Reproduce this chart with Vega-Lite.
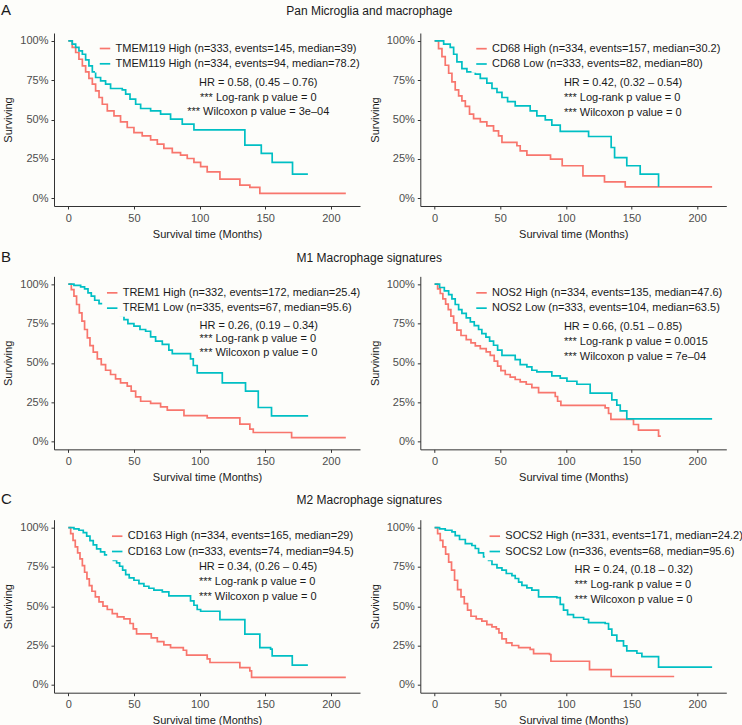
{
  "$schema": "https://vega.github.io/schema/vega-lite/v6.json",
  "background": "#fdfdfa",
  "padding": {"left": 1, "top": 3, "right": 0, "bottom": 0},
  "config": {
    "font": "Liberation Sans",
    "view": {"stroke": null},
    "axis": {"grid": false, "domainColor": "#333333", "tickColor": "#333333", "domainWidth": 1, "tickWidth": 1, "tickSize": 3, "labelFontSize": 11, "labelColor": "#4d4d4d", "titleFontSize": 11, "titleFontWeight": "normal", "titleColor": "#1a1a1a", "labelPadding": 3},
    "axisX": {"titlePadding": 5},
    "axisY": {"titlePadding": 6},
    "legend": {"orient": "none", "symbolType": "stroke", "symbolSize": 110, "symbolStrokeWidth": 1.7, "labelFontSize": 11, "labelColor": "#1a1a1a", "labelOffset": 4, "padding": 3.5, "fillColor": "#fdfdfa", "rowPadding": 3.3, "labelLimit": 400},
    "title": {"fontWeight": "normal", "color": "#1a1a1a", "baseline": "alphabetic"}
  },
  "datasets": {
    "km": [
      {"p":"A1","g":"High","t":0,"s":1},{"p":"A1","g":"High","t":3.0,"s":0.958},{"p":"A1","g":"High","t":5.6,"s":0.926},{"p":"A1","g":"High","t":8.1,"s":0.883},{"p":"A1","g":"High","t":10.7,"s":0.841},{"p":"A1","g":"High","t":13.2,"s":0.803},{"p":"A1","g":"High","t":15.7,"s":0.761},{"p":"A1","g":"High","t":18.3,"s":0.725},{"p":"A1","g":"High","t":20.8,"s":0.682},{"p":"A1","g":"High","t":23.4,"s":0.640},{"p":"A1","g":"High","t":25.9,"s":0.597},{"p":"A1","g":"High","t":29.7,"s":0.555},{"p":"A1","g":"High","t":34.8,"s":0.523},{"p":"A1","g":"High","t":39.8,"s":0.485},{"p":"A1","g":"High","t":44.9,"s":0.449},{"p":"A1","g":"High","t":50.0,"s":0.417},{"p":"A1","g":"High","t":56.3,"s":0.396},{"p":"A1","g":"High","t":62.7,"s":0.371},{"p":"A1","g":"High","t":67.8,"s":0.343},{"p":"A1","g":"High","t":72.8,"s":0.316},{"p":"A1","g":"High","t":79.2,"s":0.290},{"p":"A1","g":"High","t":85.5,"s":0.273},{"p":"A1","g":"High","t":90.6,"s":0.252},{"p":"A1","g":"High","t":95.7,"s":0.227},{"p":"A1","g":"High","t":100.8,"s":0.201},{"p":"A1","g":"High","t":105.8,"s":0.167},{"p":"A1","g":"High","t":115.5,"s":0.121},{"p":"A1","g":"High","t":130.7,"s":0.083},{"p":"A1","g":"High","t":138.3,"s":0.068},{"p":"A1","g":"High","t":145.9,"s":0.030},{"p":"A1","g":"High","t":211.4,"s":0.030},
      {"p":"A1","g":"Low","t":0,"s":1},{"p":"A1","g":"Low","t":3.0,"s":0.979},{"p":"A1","g":"Low","t":5.6,"s":0.958},{"p":"A1","g":"Low","t":8.1,"s":0.936},{"p":"A1","g":"Low","t":10.7,"s":0.915},{"p":"A1","g":"Low","t":13.2,"s":0.879},{"p":"A1","g":"Low","t":15.7,"s":0.841},{"p":"A1","g":"Low","t":18.3,"s":0.803},{"p":"A1","g":"Low","t":20.8,"s":0.767},{"p":"A1","g":"Low","t":24.6,"s":0.746},{"p":"A1","g":"Low","t":28.4,"s":0.725},{"p":"A1","g":"Low","t":32.2,"s":0.697},{"p":"A1","g":"Low","t":41.1,"s":0.689},{"p":"A1","g":"Low","t":43.7,"s":0.661},{"p":"A1","g":"Low","t":47.0,"s":0.629},{"p":"A1","g":"Low","t":51.3,"s":0.597},{"p":"A1","g":"Low","t":55.1,"s":0.570},{"p":"A1","g":"Low","t":62.7,"s":0.555},{"p":"A1","g":"Low","t":70.3,"s":0.534},{"p":"A1","g":"Low","t":77.9,"s":0.502},{"p":"A1","g":"Low","t":86.8,"s":0.470},{"p":"A1","g":"Low","t":95.7,"s":0.434},{"p":"A1","g":"Low","t":134.5,"s":0.337},{"p":"A1","g":"Low","t":147.0,"s":0.284},{"p":"A1","g":"Low","t":155.3,"s":0.227},{"p":"A1","g":"Low","t":170.8,"s":0.153},{"p":"A1","g":"Low","t":182.5,"s":0.153},
      {"p":"A2","g":"High","t":0,"s":1},{"p":"A2","g":"High","t":3.0,"s":0.951},{"p":"A2","g":"High","t":5.6,"s":0.900},{"p":"A2","g":"High","t":8.1,"s":0.845},{"p":"A2","g":"High","t":10.7,"s":0.794},{"p":"A2","g":"High","t":13.2,"s":0.739},{"p":"A2","g":"High","t":15.7,"s":0.689},{"p":"A2","g":"High","t":18.3,"s":0.650},{"p":"A2","g":"High","t":20.8,"s":0.619},{"p":"A2","g":"High","t":23.4,"s":0.583},{"p":"A2","g":"High","t":26.6,"s":0.534},{"p":"A2","g":"High","t":29.7,"s":0.506},{"p":"A2","g":"High","t":34.8,"s":0.485},{"p":"A2","g":"High","t":39.8,"s":0.460},{"p":"A2","g":"High","t":44.9,"s":0.428},{"p":"A2","g":"High","t":48.7,"s":0.396},{"p":"A2","g":"High","t":51.3,"s":0.354},{"p":"A2","g":"High","t":62.7,"s":0.333},{"p":"A2","g":"High","t":65.2,"s":0.301},{"p":"A2","g":"High","t":70.3,"s":0.273},{"p":"A2","g":"High","t":88.3,"s":0.248},{"p":"A2","g":"High","t":97.2,"s":0.206},{"p":"A2","g":"High","t":113.0,"s":0.142},{"p":"A2","g":"High","t":129.4,"s":0.104},{"p":"A2","g":"High","t":145.2,"s":0.072},{"p":"A2","g":"High","t":211.4,"s":0.072},
      {"p":"A2","g":"Low","t":0,"s":1},{"p":"A2","g":"Low","t":6.9,"s":0.979},{"p":"A2","g":"Low","t":11.9,"s":0.958},{"p":"A2","g":"Low","t":14.5,"s":0.915},{"p":"A2","g":"Low","t":17.0,"s":0.867},{"p":"A2","g":"Low","t":20.8,"s":0.824},{"p":"A2","g":"Low","t":24.6,"s":0.803},{"p":"A2","g":"Low","t":31.0,"s":0.788},{"p":"A2","g":"Low","t":34.8,"s":0.761},{"p":"A2","g":"Low","t":39.8,"s":0.731},{"p":"A2","g":"Low","t":43.7,"s":0.697},{"p":"A2","g":"Low","t":47.5,"s":0.672},{"p":"A2","g":"Low","t":51.3,"s":0.640},{"p":"A2","g":"Low","t":55.6,"s":0.614},{"p":"A2","g":"Low","t":61.4,"s":0.587},{"p":"A2","g":"Low","t":72.8,"s":0.555},{"p":"A2","g":"Low","t":77.9,"s":0.523},{"p":"A2","g":"Low","t":84.3,"s":0.498},{"p":"A2","g":"Low","t":89.3,"s":0.464},{"p":"A2","g":"Low","t":95.7,"s":0.424},{"p":"A2","g":"Low","t":117.3,"s":0.392},{"p":"A2","g":"Low","t":134.5,"s":0.322},{"p":"A2","g":"Low","t":137.1,"s":0.258},{"p":"A2","g":"Low","t":146.4,"s":0.206},{"p":"A2","g":"Low","t":156.6,"s":0.153},{"p":"A2","g":"Low","t":170.6,"s":0.072},
      {"p":"B1","g":"High","t":0,"s":1},{"p":"B1","g":"High","t":2.3,"s":0.966},{"p":"B1","g":"High","t":4.3,"s":0.924},{"p":"B1","g":"High","t":6.3,"s":0.871},{"p":"B1","g":"High","t":8.4,"s":0.818},{"p":"B1","g":"High","t":10.4,"s":0.765},{"p":"B1","g":"High","t":12.4,"s":0.712},{"p":"B1","g":"High","t":14.5,"s":0.659},{"p":"B1","g":"High","t":16.5,"s":0.610},{"p":"B1","g":"High","t":19.0,"s":0.568},{"p":"B1","g":"High","t":22.1,"s":0.525},{"p":"B1","g":"High","t":25.1,"s":0.489},{"p":"B1","g":"High","t":28.4,"s":0.453},{"p":"B1","g":"High","t":32.2,"s":0.426},{"p":"B1","g":"High","t":36.0,"s":0.398},{"p":"B1","g":"High","t":39.8,"s":0.373},{"p":"B1","g":"High","t":44.9,"s":0.352},{"p":"B1","g":"High","t":47.9,"s":0.320},{"p":"B1","g":"High","t":51.3,"s":0.284},{"p":"B1","g":"High","t":55.1,"s":0.256},{"p":"B1","g":"High","t":62.7,"s":0.242},{"p":"B1","g":"High","t":70.3,"s":0.220},{"p":"B1","g":"High","t":75.4,"s":0.199},{"p":"B1","g":"High","t":88.1,"s":0.165},{"p":"B1","g":"High","t":105.8,"s":0.150},{"p":"B1","g":"High","t":130.7,"s":0.110},{"p":"B1","g":"High","t":138.3,"s":0.078},{"p":"B1","g":"High","t":140.9,"s":0.057},{"p":"B1","g":"High","t":170.1,"s":0.025},{"p":"B1","g":"High","t":211.4,"s":0.025},
      {"p":"B1","g":"Low","t":0,"s":1},{"p":"B1","g":"Low","t":4.3,"s":0.992},{"p":"B1","g":"Low","t":9.4,"s":0.983},{"p":"B1","g":"Low","t":12.4,"s":0.970},{"p":"B1","g":"Low","t":15.0,"s":0.945},{"p":"B1","g":"Low","t":17.5,"s":0.924},{"p":"B1","g":"Low","t":20.1,"s":0.898},{"p":"B1","g":"Low","t":23.4,"s":0.877},{"p":"B1","g":"Low","t":27.2,"s":0.856},{"p":"B1","g":"Low","t":32.2,"s":0.839},{"p":"B1","g":"Low","t":37.3,"s":0.818},{"p":"B1","g":"Low","t":39.8,"s":0.801},{"p":"B1","g":"Low","t":42.4,"s":0.775},{"p":"B1","g":"Low","t":45.4,"s":0.750},{"p":"B1","g":"Low","t":50.0,"s":0.733},{"p":"B1","g":"Low","t":54.6,"s":0.712},{"p":"B1","g":"Low","t":58.9,"s":0.701},{"p":"B1","g":"Low","t":62.7,"s":0.665},{"p":"B1","g":"Low","t":66.5,"s":0.638},{"p":"B1","g":"Low","t":71.6,"s":0.617},{"p":"B1","g":"Low","t":76.6,"s":0.581},{"p":"B1","g":"Low","t":79.2,"s":0.559},{"p":"B1","g":"Low","t":93.1,"s":0.525},{"p":"B1","g":"Low","t":95.2,"s":0.483},{"p":"B1","g":"Low","t":98.2,"s":0.436},{"p":"B1","g":"Low","t":117.3,"s":0.373},{"p":"B1","g":"Low","t":135.0,"s":0.320},{"p":"B1","g":"Low","t":144.7,"s":0.216},{"p":"B1","g":"Low","t":154.8,"s":0.163},{"p":"B1","g":"Low","t":182.7,"s":0.163},
      {"p":"B2","g":"High","t":0,"s":1},{"p":"B2","g":"High","t":2.3,"s":0.970},{"p":"B2","g":"High","t":4.3,"s":0.941},{"p":"B2","g":"High","t":6.3,"s":0.907},{"p":"B2","g":"High","t":8.4,"s":0.873},{"p":"B2","g":"High","t":10.4,"s":0.839},{"p":"B2","g":"High","t":12.4,"s":0.797},{"p":"B2","g":"High","t":14.5,"s":0.754},{"p":"B2","g":"High","t":17.0,"s":0.708},{"p":"B2","g":"High","t":20.1,"s":0.674},{"p":"B2","g":"High","t":24.1,"s":0.648},{"p":"B2","g":"High","t":27.7,"s":0.627},{"p":"B2","g":"High","t":31.0,"s":0.608},{"p":"B2","g":"High","t":34.8,"s":0.591},{"p":"B2","g":"High","t":39.3,"s":0.570},{"p":"B2","g":"High","t":42.4,"s":0.547},{"p":"B2","g":"High","t":45.4,"s":0.511},{"p":"B2","g":"High","t":48.0,"s":0.479},{"p":"B2","g":"High","t":50.5,"s":0.451},{"p":"B2","g":"High","t":53.8,"s":0.426},{"p":"B2","g":"High","t":57.6,"s":0.409},{"p":"B2","g":"High","t":61.4,"s":0.394},{"p":"B2","g":"High","t":65.2,"s":0.379},{"p":"B2","g":"High","t":69.8,"s":0.364},{"p":"B2","g":"High","t":74.1,"s":0.343},{"p":"B2","g":"High","t":79.2,"s":0.311},{"p":"B2","g":"High","t":91.9,"s":0.286},{"p":"B2","g":"High","t":93.7,"s":0.256},{"p":"B2","g":"High","t":96.2,"s":0.229},{"p":"B2","g":"High","t":129.9,"s":0.214},{"p":"B2","g":"High","t":132.5,"s":0.178},{"p":"B2","g":"High","t":134.3,"s":0.140},{"p":"B2","g":"High","t":151.5,"s":0.108},{"p":"B2","g":"High","t":155.3,"s":0.072},{"p":"B2","g":"High","t":170.6,"s":0.034},{"p":"B2","g":"High","t":172.3,"s":0.034},
      {"p":"B2","g":"Low","t":0,"s":1},{"p":"B2","g":"Low","t":3.8,"s":0.979},{"p":"B2","g":"Low","t":7.4,"s":0.958},{"p":"B2","g":"Low","t":10.7,"s":0.934},{"p":"B2","g":"Low","t":13.2,"s":0.907},{"p":"B2","g":"Low","t":15.7,"s":0.871},{"p":"B2","g":"Low","t":18.3,"s":0.839},{"p":"B2","g":"Low","t":20.8,"s":0.814},{"p":"B2","g":"Low","t":24.1,"s":0.786},{"p":"B2","g":"Low","t":27.2,"s":0.761},{"p":"B2","g":"Low","t":30.2,"s":0.737},{"p":"B2","g":"Low","t":33.5,"s":0.712},{"p":"B2","g":"Low","t":36.0,"s":0.686},{"p":"B2","g":"Low","t":39.1,"s":0.663},{"p":"B2","g":"Low","t":41.9,"s":0.638},{"p":"B2","g":"Low","t":44.9,"s":0.612},{"p":"B2","g":"Low","t":48.0,"s":0.581},{"p":"B2","g":"Low","t":51.3,"s":0.547},{"p":"B2","g":"Low","t":61.4,"s":0.521},{"p":"B2","g":"Low","t":65.2,"s":0.489},{"p":"B2","g":"Low","t":70.3,"s":0.475},{"p":"B2","g":"Low","t":74.1,"s":0.453},{"p":"B2","g":"Low","t":77.9,"s":0.443},{"p":"B2","g":"Low","t":89.3,"s":0.417},{"p":"B2","g":"Low","t":95.7,"s":0.403},{"p":"B2","g":"Low","t":100.8,"s":0.383},{"p":"B2","g":"Low","t":108.4,"s":0.364},{"p":"B2","g":"Low","t":118.5,"s":0.307},{"p":"B2","g":"Low","t":135.0,"s":0.265},{"p":"B2","g":"Low","t":138.8,"s":0.231},{"p":"B2","g":"Low","t":141.4,"s":0.195},{"p":"B2","g":"Low","t":146.4,"s":0.144},{"p":"B2","g":"Low","t":211.4,"s":0.144},
      {"p":"C1","g":"High","t":0,"s":1},{"p":"C1","g":"High","t":1.8,"s":0.962},{"p":"C1","g":"High","t":3.6,"s":0.919},{"p":"C1","g":"High","t":5.3,"s":0.877},{"p":"C1","g":"High","t":7.1,"s":0.839},{"p":"C1","g":"High","t":8.9,"s":0.801},{"p":"C1","g":"High","t":10.7,"s":0.758},{"p":"C1","g":"High","t":12.4,"s":0.716},{"p":"C1","g":"High","t":14.2,"s":0.674},{"p":"C1","g":"High","t":16.0,"s":0.631},{"p":"C1","g":"High","t":18.0,"s":0.595},{"p":"C1","g":"High","t":20.6,"s":0.559},{"p":"C1","g":"High","t":23.4,"s":0.528},{"p":"C1","g":"High","t":26.4,"s":0.500},{"p":"C1","g":"High","t":29.7,"s":0.479},{"p":"C1","g":"High","t":33.5,"s":0.453},{"p":"C1","g":"High","t":37.3,"s":0.432},{"p":"C1","g":"High","t":42.4,"s":0.419},{"p":"C1","g":"High","t":47.0,"s":0.390},{"p":"C1","g":"High","t":49.5,"s":0.356},{"p":"C1","g":"High","t":52.0,"s":0.324},{"p":"C1","g":"High","t":63.2,"s":0.299},{"p":"C1","g":"High","t":67.8,"s":0.275},{"p":"C1","g":"High","t":72.8,"s":0.254},{"p":"C1","g":"High","t":77.9,"s":0.237},{"p":"C1","g":"High","t":87.6,"s":0.220},{"p":"C1","g":"High","t":90.1,"s":0.189},{"p":"C1","g":"High","t":105.8,"s":0.165},{"p":"C1","g":"High","t":107.9,"s":0.142},{"p":"C1","g":"High","t":130.7,"s":0.110},{"p":"C1","g":"High","t":138.3,"s":0.089},{"p":"C1","g":"High","t":139.6,"s":0.047},{"p":"C1","g":"High","t":211.4,"s":0.047},
      {"p":"C1","g":"Low","t":0,"s":1},{"p":"C1","g":"Low","t":4.3,"s":0.992},{"p":"C1","g":"Low","t":8.1,"s":0.983},{"p":"C1","g":"Low","t":11.4,"s":0.968},{"p":"C1","g":"Low","t":14.0,"s":0.945},{"p":"C1","g":"Low","t":16.5,"s":0.917},{"p":"C1","g":"Low","t":19.0,"s":0.890},{"p":"C1","g":"Low","t":21.6,"s":0.864},{"p":"C1","g":"Low","t":24.6,"s":0.845},{"p":"C1","g":"Low","t":27.7,"s":0.826},{"p":"C1","g":"Low","t":31.0,"s":0.807},{"p":"C1","g":"Low","t":34.3,"s":0.792},{"p":"C1","g":"Low","t":36.8,"s":0.775},{"p":"C1","g":"Low","t":39.1,"s":0.754},{"p":"C1","g":"Low","t":41.4,"s":0.729},{"p":"C1","g":"Low","t":43.7,"s":0.701},{"p":"C1","g":"Low","t":46.4,"s":0.680},{"p":"C1","g":"Low","t":50.0,"s":0.665},{"p":"C1","g":"Low","t":53.8,"s":0.644},{"p":"C1","g":"Low","t":57.6,"s":0.627},{"p":"C1","g":"Low","t":61.4,"s":0.614},{"p":"C1","g":"Low","t":65.2,"s":0.602},{"p":"C1","g":"Low","t":71.6,"s":0.591},{"p":"C1","g":"Low","t":76.6,"s":0.566},{"p":"C1","g":"Low","t":93.1,"s":0.534},{"p":"C1","g":"Low","t":95.7,"s":0.506},{"p":"C1","g":"Low","t":98.2,"s":0.479},{"p":"C1","g":"Low","t":100.8,"s":0.468},{"p":"C1","g":"Low","t":115.5,"s":0.415},{"p":"C1","g":"Low","t":134.5,"s":0.322},{"p":"C1","g":"Low","t":145.9,"s":0.237},{"p":"C1","g":"Low","t":154.1,"s":0.227},{"p":"C1","g":"Low","t":155.3,"s":0.184},{"p":"C1","g":"Low","t":170.6,"s":0.125},{"p":"C1","g":"Low","t":182.5,"s":0.125},
      {"p":"C2","g":"High","t":0,"s":1},{"p":"C2","g":"High","t":2.3,"s":0.962},{"p":"C2","g":"High","t":4.3,"s":0.919},{"p":"C2","g":"High","t":6.3,"s":0.877},{"p":"C2","g":"High","t":8.4,"s":0.831},{"p":"C2","g":"High","t":10.7,"s":0.780},{"p":"C2","g":"High","t":12.9,"s":0.729},{"p":"C2","g":"High","t":15.2,"s":0.665},{"p":"C2","g":"High","t":17.5,"s":0.606},{"p":"C2","g":"High","t":20.1,"s":0.559},{"p":"C2","g":"High","t":22.6,"s":0.517},{"p":"C2","g":"High","t":25.1,"s":0.475},{"p":"C2","g":"High","t":27.7,"s":0.436},{"p":"C2","g":"High","t":31.7,"s":0.419},{"p":"C2","g":"High","t":36.0,"s":0.405},{"p":"C2","g":"High","t":39.8,"s":0.383},{"p":"C2","g":"High","t":43.7,"s":0.369},{"p":"C2","g":"High","t":47.0,"s":0.356},{"p":"C2","g":"High","t":49.0,"s":0.331},{"p":"C2","g":"High","t":51.3,"s":0.292},{"p":"C2","g":"High","t":54.6,"s":0.267},{"p":"C2","g":"High","t":58.9,"s":0.250},{"p":"C2","g":"High","t":64.0,"s":0.237},{"p":"C2","g":"High","t":72.8,"s":0.225},{"p":"C2","g":"High","t":75.4,"s":0.199},{"p":"C2","g":"High","t":87.6,"s":0.193},{"p":"C2","g":"High","t":88.6,"s":0.150},{"p":"C2","g":"High","t":118.0,"s":0.097},{"p":"C2","g":"High","t":134.5,"s":0.053},{"p":"C2","g":"High","t":182.5,"s":0.053},
      {"p":"C2","g":"Low","t":0,"s":1},{"p":"C2","g":"Low","t":3.8,"s":0.992},{"p":"C2","g":"Low","t":8.1,"s":0.983},{"p":"C2","g":"Low","t":13.2,"s":0.972},{"p":"C2","g":"Low","t":15.7,"s":0.949},{"p":"C2","g":"Low","t":19.0,"s":0.924},{"p":"C2","g":"Low","t":23.4,"s":0.898},{"p":"C2","g":"Low","t":28.4,"s":0.886},{"p":"C2","g":"Low","t":31.0,"s":0.867},{"p":"C2","g":"Low","t":33.5,"s":0.839},{"p":"C2","g":"Low","t":37.3,"s":0.814},{"p":"C2","g":"Low","t":41.1,"s":0.792},{"p":"C2","g":"Low","t":43.7,"s":0.765},{"p":"C2","g":"Low","t":47.5,"s":0.744},{"p":"C2","g":"Low","t":51.3,"s":0.729},{"p":"C2","g":"Low","t":54.6,"s":0.708},{"p":"C2","g":"Low","t":58.9,"s":0.695},{"p":"C2","g":"Low","t":61.4,"s":0.676},{"p":"C2","g":"Low","t":64.0,"s":0.653},{"p":"C2","g":"Low","t":66.5,"s":0.633},{"p":"C2","g":"Low","t":70.3,"s":0.617},{"p":"C2","g":"Low","t":74.1,"s":0.602},{"p":"C2","g":"Low","t":79.2,"s":0.559},{"p":"C2","g":"Low","t":93.1,"s":0.555},{"p":"C2","g":"Low","t":95.7,"s":0.511},{"p":"C2","g":"Low","t":98.2,"s":0.475},{"p":"C2","g":"Low","t":101.3,"s":0.447},{"p":"C2","g":"Low","t":105.8,"s":0.428},{"p":"C2","g":"Low","t":113.5,"s":0.417},{"p":"C2","g":"Low","t":117.3,"s":0.396},{"p":"C2","g":"Low","t":129.9,"s":0.390},{"p":"C2","g":"Low","t":132.5,"s":0.354},{"p":"C2","g":"Low","t":135.0,"s":0.316},{"p":"C2","g":"Low","t":138.8,"s":0.280},{"p":"C2","g":"Low","t":143.9,"s":0.248},{"p":"C2","g":"Low","t":146.4,"s":0.216},{"p":"C2","g":"Low","t":154.1,"s":0.201},{"p":"C2","g":"Low","t":157.9,"s":0.180},{"p":"C2","g":"Low","t":170.6,"s":0.112},{"p":"C2","g":"Low","t":211.4,"s":0.112}
    ]
  },
  "data": {"name": "km"},
  "columns": 2,
  "bounds": "flush",
  "spacing": {"row": 70.35, "column": 60.3},
  "resolve": {"scale": {"color": "independent"}, "legend": {"color": "independent"}},
  "concat": [
    {
      "width": 306, "height": 173,
      "title": {"text": "A", "anchor": "start", "frame": "group", "dx": -53, "fontSize": 15, "offset": 15},
      "layer": [
        {"transform": [{"filter": "datum.p === 'A1'"}],
         "mark": {"type": "line", "interpolate": "step-after", "strokeWidth": 1.7},
         "encoding": {
           "x": {"field": "t", "type": "quantitative", "scale": {"domain": [-10.9, 222.2], "nice": false, "zero": false}, "axis": {"values": [0, 50, 100, 150, 200], "title": "Survival time (Months)"}},
           "y": {"field": "s", "type": "quantitative", "scale": {"domain": [-0.05, 1.05], "nice": false, "zero": false}, "axis": {"values": [0, 0.25, 0.5, 0.75, 1], "format": ".0%", "title": "Surviving"}},
           "color": {"field": "g", "type": "nominal", "scale": {"domain": ["High", "Low"], "range": ["#F8766D", "#00BFC4"]}, "legend": {"title": null, "orient": "none", "legendX": 41, "legendY": 5.5, "labelExpr": "datum.label === 'High' ? 'TMEM119 High (n=333, events=145, median=39)' : 'TMEM119 High (n=334, events=94, median=78.2)'"}}
         }},
        {"data": {"values": [{}]},
         "mark": {"type": "text", "align": "center", "baseline": "middle", "fontSize": 11, "lineHeight": 14.2, "color": "#1a1a1a", "text": ["HR = 0.58, (0.45 – 0.76)", "*** Log-rank p value = 0", "*** Wilcoxon p value = 3e–04"]},
         "encoding": {"x": {"datum": 144.7, "type": "quantitative"}, "y": {"datum": 0.729, "type": "quantitative"}}}
      ]
    },
    {
      "width": 306, "height": 173,
      "title": {"text": "Pan Microglia and macrophage", "anchor": "middle", "frame": "group", "dx": -204, "fontSize": 12, "offset": 15},
      "layer": [
        {"transform": [{"filter": "datum.p === 'A2'"}],
         "mark": {"type": "line", "interpolate": "step-after", "strokeWidth": 1.7},
         "encoding": {
           "x": {"field": "t", "type": "quantitative", "scale": {"domain": [-10.9, 222.2], "nice": false, "zero": false}, "axis": {"values": [0, 50, 100, 150, 200], "title": "Survival time (Months)"}},
           "y": {"field": "s", "type": "quantitative", "scale": {"domain": [-0.05, 1.05], "nice": false, "zero": false}, "axis": {"values": [0, 0.25, 0.5, 0.75, 1], "format": ".0%", "title": "Surviving"}},
           "color": {"field": "g", "type": "nominal", "scale": {"domain": ["High", "Low"], "range": ["#F8766D", "#00BFC4"]}, "legend": {"title": null, "orient": "none", "legendX": 51.2, "legendY": 5.7, "labelExpr": "datum.label === 'High' ? 'CD68 High (n=334, events=157, median=30.2)' : 'CD68 Low (n=333, events=82, median=80)'"}}
         }},
        {"data": {"values": [{}]},
         "mark": {"type": "text", "align": "left", "baseline": "middle", "fontSize": 11, "lineHeight": 15, "color": "#1a1a1a", "text": ["HR = 0.42, (0.32 – 0.54)", "*** Log-rank p value = 0", " *** Wilcoxon p value = 0"]},
         "encoding": {"x": {"datum": 98.5, "type": "quantitative"}, "y": {"datum": 0.729, "type": "quantitative"}}}
      ]
    },
    {
      "width": 306, "height": 173,
      "title": {"text": "B", "anchor": "start", "frame": "group", "dx": -53, "fontSize": 15, "offset": 11.6},
      "layer": [
        {"transform": [{"filter": "datum.p === 'B1'"}],
         "mark": {"type": "line", "interpolate": "step-after", "strokeWidth": 1.7},
         "encoding": {
           "x": {"field": "t", "type": "quantitative", "scale": {"domain": [-10.9, 222.2], "nice": false, "zero": false}, "axis": {"values": [0, 50, 100, 150, 200], "title": "Survival time (Months)"}},
           "y": {"field": "s", "type": "quantitative", "scale": {"domain": [-0.05, 1.05], "nice": false, "zero": false}, "axis": {"values": [0, 0.25, 0.5, 0.75, 1], "format": ".0%", "title": "Surviving"}},
           "color": {"field": "g", "type": "nominal", "scale": {"domain": ["High", "Low"], "range": ["#F8766D", "#00BFC4"]}, "legend": {"title": null, "orient": "none", "legendX": 48.2, "legendY": 6.5, "labelExpr": "datum.label === 'High' ? 'TREM1 High (n=332, events=172, median=25.4)' : 'TREM1 Low (n=335, events=67, median=95.6)'"}}
         }},
        {"data": {"values": [{}]},
         "mark": {"type": "text", "align": "left", "baseline": "middle", "fontSize": 11, "lineHeight": 13.8, "color": "#1a1a1a", "text": ["HR = 0.26, (0.19 – 0.34)", "*** Log-rank p value = 0", "*** Wilcoxon p value = 0"]},
         "encoding": {"x": {"datum": 100, "type": "quantitative"}, "y": {"datum": 0.737, "type": "quantitative"}}}
      ]
    },
    {
      "width": 306, "height": 173,
      "title": {"text": "M1 Macrophage signatures", "anchor": "middle", "frame": "group", "dx": -204, "fontSize": 12, "offset": 11.6},
      "layer": [
        {"transform": [{"filter": "datum.p === 'B2'"}],
         "mark": {"type": "line", "interpolate": "step-after", "strokeWidth": 1.7},
         "encoding": {
           "x": {"field": "t", "type": "quantitative", "scale": {"domain": [-10.9, 222.2], "nice": false, "zero": false}, "axis": {"values": [0, 50, 100, 150, 200], "title": "Survival time (Months)"}},
           "y": {"field": "s", "type": "quantitative", "scale": {"domain": [-0.05, 1.05], "nice": false, "zero": false}, "axis": {"values": [0, 0.25, 0.5, 0.75, 1], "format": ".0%", "title": "Surviving"}},
           "color": {"field": "g", "type": "nominal", "scale": {"domain": ["High", "Low"], "range": ["#F8766D", "#00BFC4"]}, "legend": {"title": null, "orient": "none", "legendX": 51.2, "legendY": 6.5, "labelExpr": "datum.label === 'High' ? 'NOS2 High (n=334, events=135, median=47.6)' : 'NOS2 Low (n=333, events=104, median=63.5)'"}}
         }},
        {"data": {"values": [{}]},
         "mark": {"type": "text", "align": "left", "baseline": "middle", "fontSize": 11, "lineHeight": 15, "color": "#1a1a1a", "text": ["HR = 0.66, (0.51 – 0.85)", "*** Log-rank p value = 0.0015", " *** Wilcoxon p value = 7e–04"]},
         "encoding": {"x": {"datum": 98.5, "type": "quantitative"}, "y": {"datum": 0.727, "type": "quantitative"}}}
      ]
    },
    {
      "width": 306, "height": 173,
      "title": {"text": "C", "anchor": "start", "frame": "group", "dx": -53, "fontSize": 15, "offset": 13},
      "layer": [
        {"transform": [{"filter": "datum.p === 'C1'"}],
         "mark": {"type": "line", "interpolate": "step-after", "strokeWidth": 1.7},
         "encoding": {
           "x": {"field": "t", "type": "quantitative", "scale": {"domain": [-10.9, 222.2], "nice": false, "zero": false}, "axis": {"values": [0, 50, 100, 150, 200], "title": "Survival time (Months)"}},
           "y": {"field": "s", "type": "quantitative", "scale": {"domain": [-0.05, 1.05], "nice": false, "zero": false}, "axis": {"values": [0, 0.25, 0.5, 0.75, 1], "format": ".0%", "title": "Surviving"}},
           "color": {"field": "g", "type": "nominal", "scale": {"domain": ["High", "Low"], "range": ["#F8766D", "#00BFC4"]}, "legend": {"title": null, "orient": "none", "legendX": 53.2, "legendY": 6.5, "labelExpr": "datum.label === 'High' ? 'CD163 High (n=334, events=165, median=29)' : 'CD163 Low (n=333, events=74, median=94.5)'"}}
         }},
        {"data": {"values": [{}]},
         "mark": {"type": "text", "align": "left", "baseline": "middle", "fontSize": 11, "lineHeight": 14.8, "color": "#1a1a1a", "text": ["HR = 0.34, (0.26 – 0.45)", "*** Log-rank p value = 0", " *** Wilcoxon p value = 0"]},
         "encoding": {"x": {"datum": 99.5, "type": "quantitative"}, "y": {"datum": 0.748, "type": "quantitative"}}}
      ]
    },
    {
      "width": 306, "height": 173,
      "title": {"text": "M2 Macrophage signatures", "anchor": "middle", "frame": "group", "dx": -204, "fontSize": 12, "offset": 13},
      "layer": [
        {"transform": [{"filter": "datum.p === 'C2'"}],
         "mark": {"type": "line", "interpolate": "step-after", "strokeWidth": 1.7},
         "encoding": {
           "x": {"field": "t", "type": "quantitative", "scale": {"domain": [-10.9, 222.2], "nice": false, "zero": false}, "axis": {"values": [0, 50, 100, 150, 200], "title": "Survival time (Months)"}},
           "y": {"field": "s", "type": "quantitative", "scale": {"domain": [-0.05, 1.05], "nice": false, "zero": false}, "axis": {"values": [0, 0.25, 0.5, 0.75, 1], "format": ".0%", "title": "Surviving"}},
           "color": {"field": "g", "type": "nominal", "scale": {"domain": ["High", "Low"], "range": ["#F8766D", "#00BFC4"]}, "legend": {"title": null, "orient": "none", "legendX": 64.5, "legendY": 6.5, "labelExpr": "datum.label === 'High' ? 'SOCS2 High (n=331, events=171, median=24.2)' : 'SOCS2 Low (n=336, events=68, median=95.6)'"}}
         }},
        {"data": {"values": [{}]},
         "mark": {"type": "text", "align": "left", "baseline": "middle", "fontSize": 11, "lineHeight": 15, "color": "#1a1a1a", "text": ["HR = 0.24, (0.18 – 0.32)", "*** Log-rank p value = 0", " *** Wilcoxon p value = 0"]},
         "encoding": {"x": {"datum": 106.6, "type": "quantitative"}, "y": {"datum": 0.727, "type": "quantitative"}}}
      ]
    }
  ]
}
